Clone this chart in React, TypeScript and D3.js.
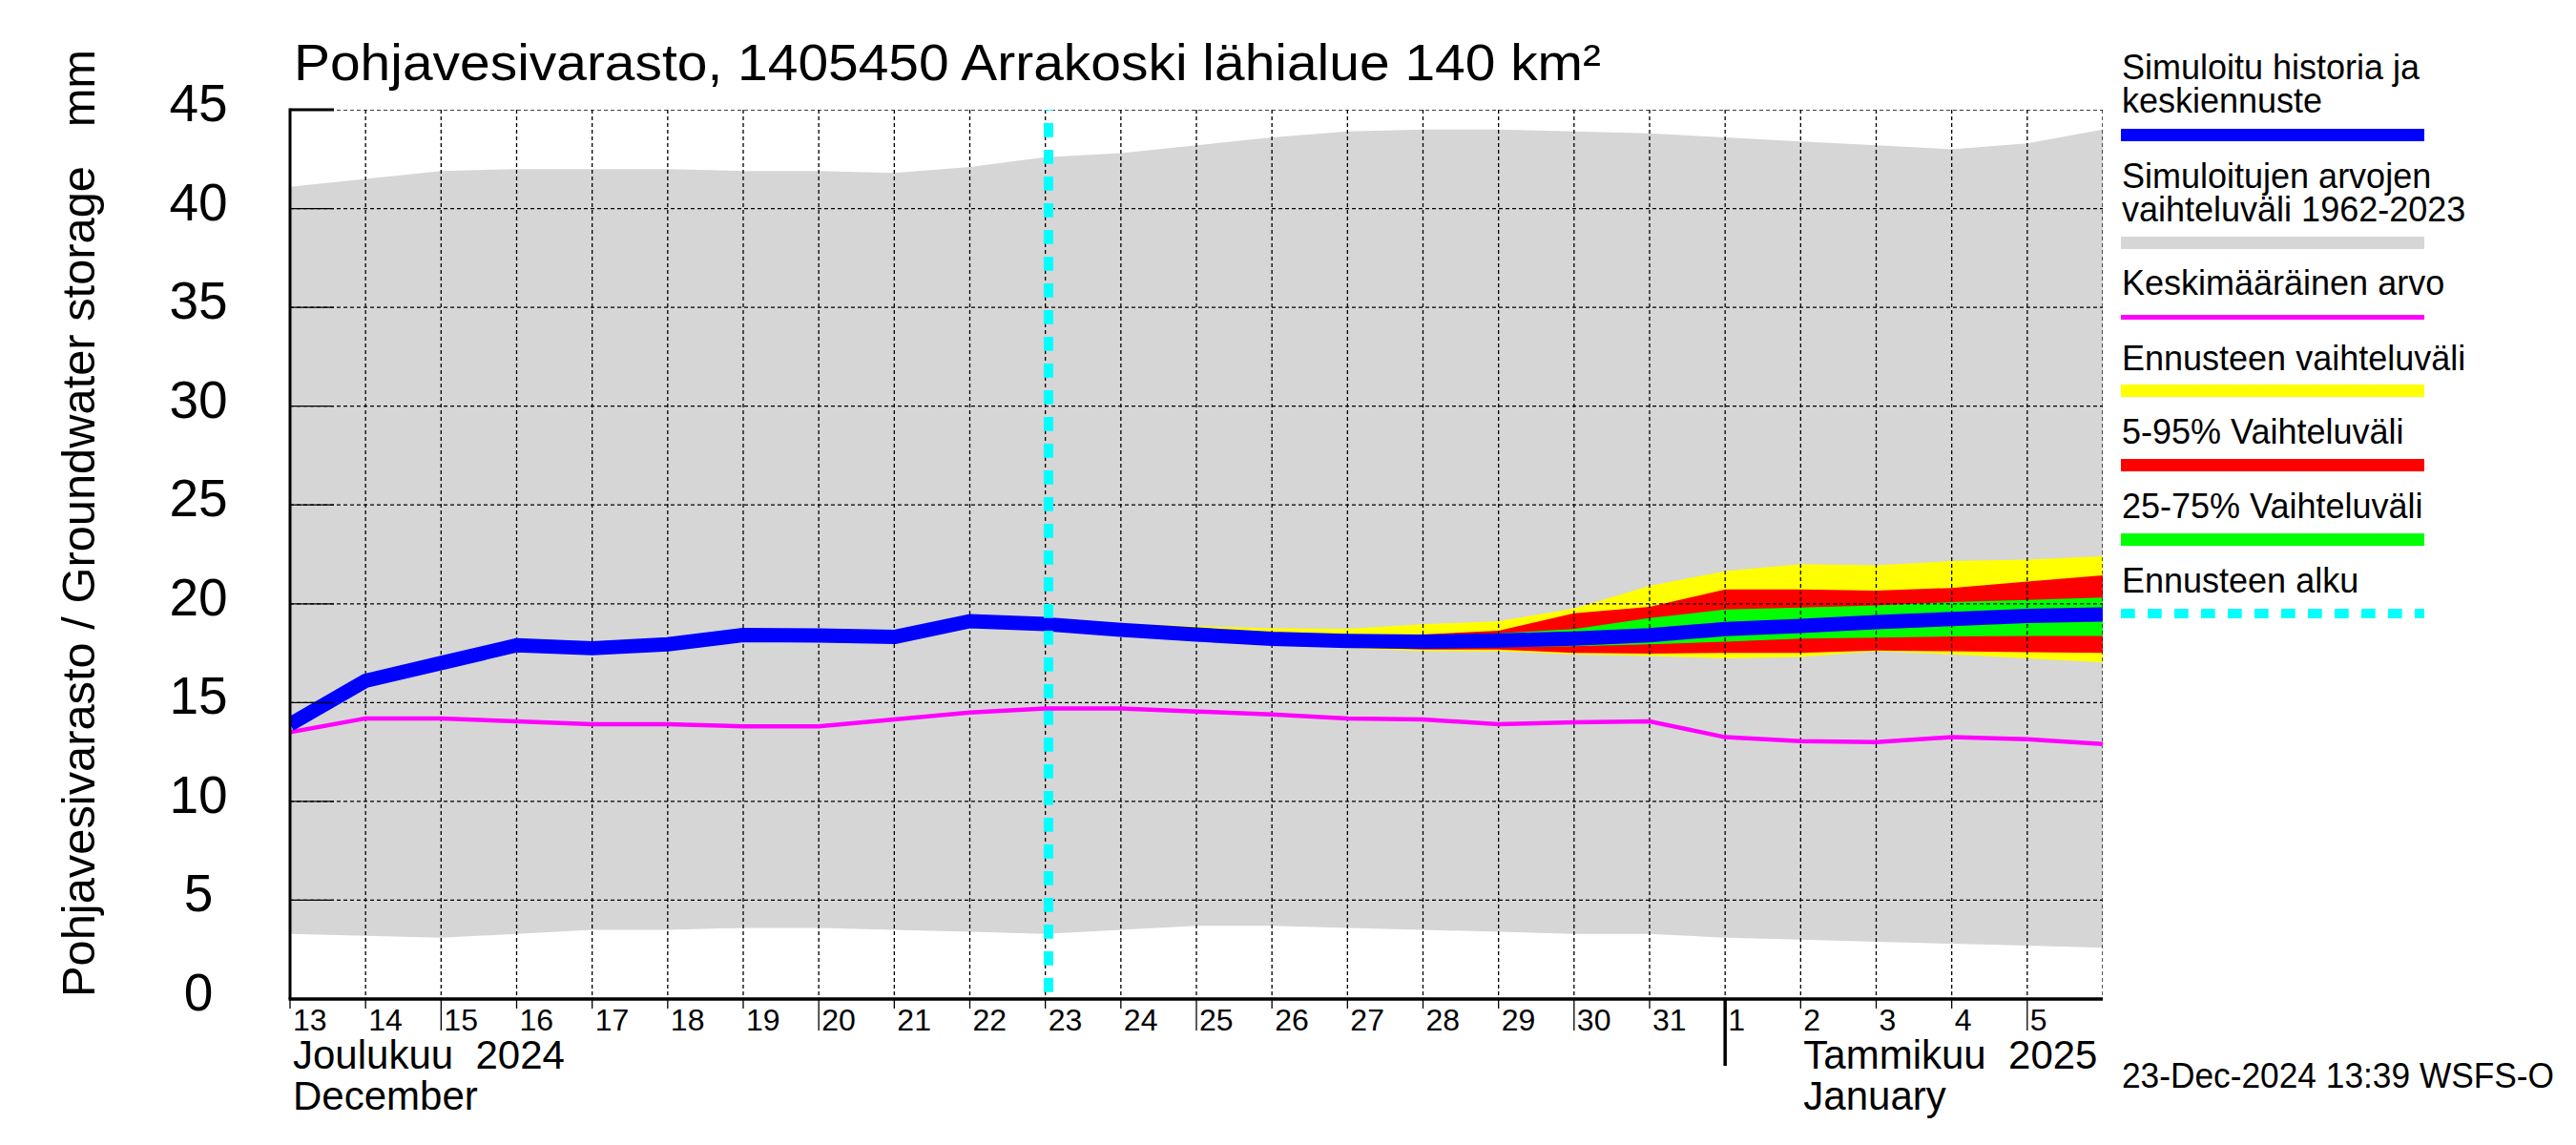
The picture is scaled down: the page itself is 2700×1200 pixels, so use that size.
import { useMemo } from "react";
import * as d3 from "d3";

// days shown on the x axis (daily values)
const dates = [
  "2024-12-13", "2024-12-14", "2024-12-15", "2024-12-16", "2024-12-17",
  "2024-12-18", "2024-12-19", "2024-12-20", "2024-12-21", "2024-12-22",
  "2024-12-23", "2024-12-24", "2024-12-25", "2024-12-26", "2024-12-27",
  "2024-12-28", "2024-12-29", "2024-12-30", "2024-12-31", "2025-01-01",
  "2025-01-02", "2025-01-03", "2025-01-04", "2025-01-05", "2025-01-06",
];

// simulated history + median forecast (mm)
const simulated = [
  13.9, 16.1, 17.0, 17.9, 17.75, 17.95, 18.42, 18.4, 18.32, 19.12,
  18.97, 18.68, 18.44, 18.23, 18.12, 18.08, 18.14, 18.24, 18.41, 18.72,
  18.88, 19.07, 19.23, 19.39, 19.46,
];

// long-term mean
const meanValues = [
  13.5, 14.2, 14.2, 14.05, 13.9, 13.9, 13.8, 13.8, 14.15, 14.5,
  14.7, 14.7, 14.55, 14.4, 14.2, 14.15, 13.9, 14.0, 14.05, 13.25,
  13.05, 13.0, 13.25, 13.15, 12.9,
];

// range of simulated values 1962-2023
const rangeMax = [
  41.1, 41.5, 41.9, 42.0, 42.0, 42.0, 41.9, 41.9, 41.8, 42.1,
  42.6, 42.8, 43.2, 43.6, 43.9, 44.0, 44.0, 43.9, 43.8, 43.6,
  43.4, 43.2, 43.0, 43.3, 44.0,
];
const rangeMin = [
  3.3, 3.2, 3.1, 3.3, 3.5, 3.5, 3.6, 3.6, 3.5, 3.4,
  3.3, 3.5, 3.7, 3.7, 3.6, 3.5, 3.4, 3.3, 3.3, 3.1,
  3.0, 2.9, 2.8, 2.7, 2.6,
];

// forecast period
const forecastDates = [
  "2024-12-23", "2024-12-24", "2024-12-25", "2024-12-26", "2024-12-27",
  "2024-12-28", "2024-12-29", "2024-12-30", "2024-12-31", "2025-01-01",
  "2025-01-02", "2025-01-03", "2025-01-04", "2025-01-05", "2025-01-06",
];
const fcMax = [18.97, 19.0, 18.87, 18.76, 18.73, 18.96, 19.12, 19.76, 20.91, 21.65, 22.0, 21.95, 22.16, 22.24, 22.4];
const fcMin = [18.97, 18.6, 18.3, 18.0, 17.75, 17.6, 17.6, 17.44, 17.36, 17.24, 17.31, 17.6, 17.44, 17.24, 17.03];
const fcP95 = [18.97, 18.75, 18.55, 18.4, 18.35, 18.45, 18.64, 19.52, 19.84, 20.72, 20.72, 20.67, 20.8, 21.12, 21.44];
const fcP05 = [18.97, 18.6, 18.3, 18.0, 17.8, 17.68, 17.68, 17.52, 17.48, 17.52, 17.52, 17.63, 17.6, 17.55, 17.52];
const fcP75 = [18.97, 18.7, 18.5, 18.3, 18.2, 18.3, 18.5, 18.72, 19.28, 19.71, 19.81, 19.92, 20.08, 20.19, 20.32];
const fcP25 = [18.97, 18.65, 18.4, 18.15, 18.0, 17.9, 17.82, 17.85, 17.95, 18.08, 18.24, 18.29, 18.35, 18.37, 18.37];

const forecastStart = "2024-12-23 01";
const yTicks = [0, 5, 10, 15, 20, 25, 30, 35, 40, 45];

const monthLabels = [
  { fi: "Joulukuu  2024", en: "December", at: "2024-12-13" },
  { fi: "Tammikuu  2025", en: "January", at: "2025-01-02" },
];
const monthStarts = ["2025-01-01"];

const legendItems = [
  { lines: ["Simuloitu historia ja", "keskiennuste"], color: "#0000ff", kind: "bar" },
  { lines: ["Simuloitujen arvojen", "vaihteluväli 1962-2023"], color: "#d6d6d6", kind: "bar" },
  { lines: ["Keskimääräinen arvo"], color: "#ff00ff", kind: "thin" },
  { lines: ["Ennusteen vaihteluväli"], color: "#ffff00", kind: "bar" },
  { lines: ["5-95% Vaihteluväli"], color: "#ff0000", kind: "bar" },
  { lines: ["25-75% Vaihteluväli"], color: "#00ff00", kind: "bar" },
  { lines: ["Ennusteen alku"], color: "#00ffff", kind: "dash" },
];

const W = 2700;
const H = 1200;
const left = 304;
const right = 2204;
const top = 115;
const bottom = 1047;
const font = "'Liberation Sans', Arial, Helvetica, sans-serif";

const parseDay = d3.timeParse("%Y-%m-%d");
const parseHour = d3.timeParse("%Y-%m-%d %H");

export default function App() {
  const x = useMemo(
    () => d3.scaleTime().domain([parseDay(dates[0])!, parseDay(dates[dates.length - 1])!]).range([left, right]),
    []
  );
  const y = useMemo(() => d3.scaleLinear().domain([0, 45]).range([bottom, top]), []);

  const days = dates.map((d) => parseDay(d)!);
  const fDays = forecastDates.map((d) => parseDay(d)!);

  const band = (lo: number[], hi: number[], ds: Date[]) =>
    d3
      .area<number>()
      .x((_, i) => x(ds[i]))
      .y0((_, i) => y(lo[i]))
      .y1((_, i) => y(hi[i]))(lo.map((_, i) => i)) || "";

  const line = (vals: number[], ds: Date[]) =>
    d3
      .line<number>()
      .x((_, i) => x(ds[i]))
      .y((v) => y(v))(vals) || "";

  const fcX = x(parseHour(forecastStart)!);

  // legend positions
  const legX = 2224;
  const textY = [[83, 118], [197, 232], [309], [388], [465], [543], [621]];
  const barY = [135, 248, 330, 403, 481, 559, 638];

  return (
    <svg width={W} height={H} style={{ position: "absolute", left: 0, top: 0, background: "#fff" }} fontFamily={font}>
      <defs>
        <clipPath id="plot">
          <rect x={left} y={top} width={right - left} height={bottom - top} />
        </clipPath>
      </defs>

      {/* title */}
      <text x={308} y={84} fontSize={53} textLength={1370} lengthAdjust="spacingAndGlyphs">
        Pohjavesivarasto, 1405450 Arrakoski lähialue 140 km²
      </text>

      <g clipPath="url(#plot)">
        <path d={band(rangeMin, rangeMax, days)} fill="#d6d6d6" />
        <path d={band(fcMin, fcMax, fDays)} fill="#ffff00" />
        <path d={band(fcP05, fcP95, fDays)} fill="#ff0000" />
        <path d={band(fcP25, fcP75, fDays)} fill="#00ff00" />

        {/* grid */}
        {yTicks.slice(1).map((t) => (
          <line key={"h" + t} x1={left} x2={right} y1={y(t)} y2={y(t)} stroke="#000" strokeWidth={1.3} strokeDasharray="4,3" />
        ))}
        {days.slice(1).map((d, i) => (
          <line key={"v" + i} x1={x(d)} x2={x(d)} y1={top} y2={bottom} stroke="#000" strokeWidth={1.3} strokeDasharray="4,3" />
        ))}

        <path d={line(meanValues, days)} fill="none" stroke="#ff00ff" strokeWidth={4.5} />
        <path d={line(simulated, days)} fill="none" stroke="#0000ff" strokeWidth={15} strokeLinejoin="round" />
      </g>

      {/* forecast start */}
      <line x1={fcX} x2={fcX} y1={top} y2={bottom} stroke="#00ffff" strokeWidth={10} strokeDasharray="14.7,13.3" strokeDashoffset={-14} />

      {/* y axis */}
      <line x1={left} x2={left} y1={top - 1.5} y2={bottom} stroke="#000" strokeWidth={3} />
      {yTicks.map((t) => (
        <g key={"yt" + t}>
          <line x1={left} x2={350} y1={y(t)} y2={y(t)} stroke="#000" strokeWidth={t === 45 ? 3 : 1.3} />
          <text x={208} y={y(t) + 12} fontSize={55} textAnchor="middle">
            {t}
          </text>
        </g>
      ))}
      <text
        transform={`translate(99,1045) rotate(-90)`}
        fontSize={49}
        textLength={993}
        lengthAdjust="spacingAndGlyphs"
        style={{ whiteSpace: "pre" }}
      >
        {"Pohjavesivarasto / Groundwater storage   mm"}
      </text>

      {/* x axis */}
      <line x1={left - 1.5} x2={right} y1={bottom} y2={bottom} stroke="#000" strokeWidth={3.5} />
      {days.slice(0, -1).map((d, i) => (
        <g key={"xt" + i}>
          <line
            x1={x(d)}
            x2={x(d)}
            y1={bottom}
            y2={d.getDate() % 5 === 0 ? 1080 : 1057}
            stroke="#000"
            strokeWidth={1.3}
          />
          <text x={x(d) + 3} y={1080} fontSize={32}>
            {d.getDate()}
          </text>
        </g>
      ))}
      {monthStarts.map((m) => (
        <line key={m} x1={x(parseDay(m)!)} x2={x(parseDay(m)!)} y1={bottom} y2={1117} stroke="#000" strokeWidth={3.5} />
      ))}
      {monthLabels.map((m) => (
        <g key={m.en}>
          <text x={x(parseDay(m.at)!) + 3} y={1120} fontSize={42} style={{ whiteSpace: "pre" }}>
            {m.fi}
          </text>
          <text x={x(parseDay(m.at)!) + 3} y={1163} fontSize={42}>
            {m.en}
          </text>
        </g>
      ))}

      {/* legend */}
      {legendItems.map((item, i) => (
        <g key={"lg" + i}>
          {item.lines.map((l, j) => (
            <text key={j} x={legX} y={textY[i][j]} fontSize={36}>
              {l}
            </text>
          ))}
          {item.kind === "bar" && <rect x={2223} y={barY[i]} width={318} height={13} fill={item.color} />}
          {item.kind === "thin" && <rect x={2223} y={barY[i]} width={318} height={5} fill={item.color} />}
          {item.kind === "dash" && (
            <line x1={2223} x2={2541} y1={barY[i] + 5} y2={barY[i] + 5} stroke={item.color} strokeWidth={10} strokeDasharray="14.7,13.3" />
          )}
        </g>
      ))}

      {/* footer */}
      <text x={2224} y={1140} fontSize={36} textLength={453} lengthAdjust="spacingAndGlyphs">
        23-Dec-2024 13:39 WSFS-O
      </text>
    </svg>
  );
}
